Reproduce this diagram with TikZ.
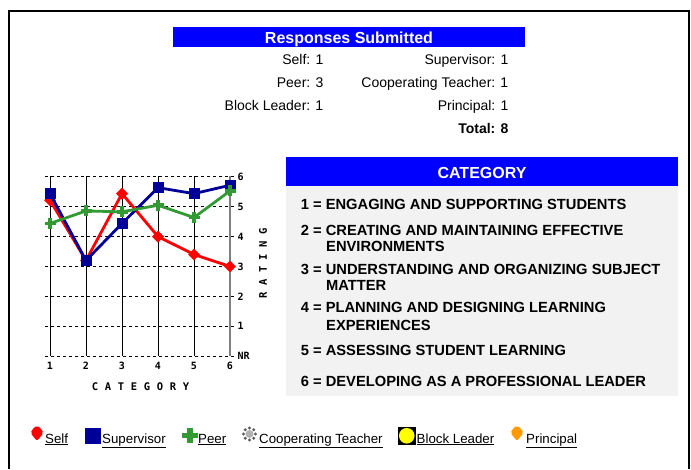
\documentclass[tikz,border=0pt]{standalone}
\usepackage{fontspec}
\setmainfont{Liberation Sans}
\newfontfamily\pixfont{DejaVu Sans Mono}
\usetikzlibrary{shapes.geometric}
\definecolor{hdrblue}{RGB}{0,0,255}
\definecolor{navy}{RGB}{0,0,153}
\definecolor{peergreen}{RGB}{51,153,51}
\definecolor{panelgray}{RGB}{242,242,242}
\definecolor{orng}{RGB}{255,153,0}
\definecolor{yel}{RGB}{255,255,0}
\definecolor{coopgray}{RGB}{90,90,90}
\begin{document}
\begin{tikzpicture}[x=1pt,y=-1pt,
  hdr/.style={font=\fontsize{16}{18}\selectfont\bfseries, text=white, inner sep=0pt},
  cnt/.style={font=\fontsize{14}{16}\selectfont, inner sep=0pt, anchor=base east},
  item/.style={font=\fontsize{14.7}{16.7}\selectfont\bfseries, inner sep=0pt, anchor=base west},
  axlab/.style={font=\pixfont\bfseries\fontsize{10}{11}\selectfont, inner sep=0pt},
  axtitle/.style={font=\pixfont\bfseries\fontsize{10.5}{11}\selectfont, inner sep=0pt},
  vgrid/.style={black, line width=0.9pt},
  hgrid/.style={black, line width=0.9pt, dash pattern=on 3pt off 3pt},
  selfline/.style={red, line width=2.8pt, line join=round},
  supline/.style={navy, line width=2.8pt, line join=round},
  peerline/.style={peergreen, line width=2.8pt, line join=round},
  selfmark/.style={diamond, fill=red, inner sep=0pt, minimum size=12pt},
  supmark/.style={rectangle, fill=navy, inner sep=0pt, minimum size=11pt},
  leg/.style={font=\fontsize{13.3}{15}\selectfont, inner sep=0pt, anchor=base west},
  plusmark/.pic={\draw[peergreen, line width=3.6pt] (-5.5,0)--(5.5,0) (0,-5.5)--(0,5.5);}
]
\useasboundingbox (0,0) rectangle (691,469);
% outer frame
\draw[line width=1.4pt] (9,469) -- (9,11) -- (689,11) -- (689,469);

% ---- Responses submitted
\fill[hdrblue] (173,27) rectangle (525,47);
\node[hdr, anchor=base] (rsub) at (349,43.3) {Responses Submitted};
\node[cnt] (nself) at (323.5,64.3) {Self: 1};
\node[cnt] (nsup) at (508.5,64.3) {Supervisor: 1};
\node[cnt] (npeer) at (323.5,87.7) {Peer: 3};
\node[cnt] (ncoop) at (508.5,87.7) {Cooperating Teacher: 1};
\node[cnt] (nblock) at (323.5,110.7) {Block Leader: 1};
\node[cnt] (nprin) at (508.5,110.7) {Principal: 1};
\node[cnt, font=\fontsize{14}{16}\selectfont\bfseries] (ntot) at (508.5,133.3) {Total: 8};

% ---- Category panel
\fill[hdrblue] (286,157) rectangle (678,186);
\fill[panelgray] (286,186) rectangle (678,396);
\node[hdr, anchor=base] (cathdr) at (482,178.3) {CATEGORY};
\node[item] (c1) at (300.7,209.3) {1 = ENGAGING AND SUPPORTING STUDENTS};
\node[item] (c2a) at (300.7,235) {2 = CREATING AND MAINTAINING EFFECTIVE};
\node[item] (c2b) at (326,251.7) {ENVIRONMENTS};
\node[item] (c3a) at (300.7,274) {3 = UNDERSTANDING AND ORGANIZING SUBJECT};
\node[item] (c3b) at (326,290.7) {MATTER};
\node[item] (c4a) at (300.7,312.7) {4 = PLANNING AND DESIGNING LEARNING};
\node[item] (c4b) at (326,330) {EXPERIENCES};
\node[item] (c5) at (300.7,355.7) {5 = ASSESSING STUDENT LEARNING};
\node[item] (c6) at (300.7,386.7) {6 = DEVELOPING AS A PROFESSIONAL LEADER};

% ---- Chart grid
\foreach \i in {1,...,5}
  \draw[vgrid] ({50+36*(\i-1)},176) -- ({50+36*(\i-1)},356);
\draw[gray, line width=1.6pt] (230,176) -- (230,356);
\foreach \r in {0,...,6}
  \draw[hgrid] (45,{356-29.85*\r}) -- (234,{356-29.85*\r});
\foreach \r in {1,...,6}
  \node[axlab, anchor=west] (rl\r) at (237.5,{356-29.85*\r}) {\r};
\node[axlab, anchor=west] (rl0) at (237.5,356) {NR};
\foreach \i in {1,...,6}
  \node[axlab] (cl\i) at ({50+36*(\i-1)},366) {\i};
\foreach \c [count=\i] in {C,A,T,E,G,O,R,Y}
  \node[axtitle] (ct\i) at ({95+13*(\i-1)},386.7) {\c};
\foreach \c [count=\i] in {R,A,T,I,N,G}
  \node[axtitle, rotate=90] (rt\i) at (263,{295-12.7*(\i-1)}) {\c};

% ---- Data series
\foreach \v [count=\i] in {5.22,3.2,5.44,4.0,3.4,3.0}
  \coordinate (s\i) at ({50+36*(\i-1)},{356-29.85*\v});
\foreach \v [count=\i] in {5.44,3.2,4.44,5.64,5.44,5.72}
  \coordinate (u\i) at ({50+36*(\i-1)},{356-29.85*\v});
\foreach \v [count=\i] in {4.44,4.86,4.83,5.05,4.64,5.53}
  \coordinate (p\i) at ({50+36*(\i-1)},{356-29.85*\v});

\draw[selfline] (s1) -- (s2) -- (s3) -- (s4) -- (s5) -- (s6);
\foreach \i in {1,...,6} \node[selfmark] (sm\i) at (s\i) {};
\draw[supline] (u1) -- (u2) -- (u3) -- (u4) -- (u5) -- (u6);
\foreach \i in {1,...,6} \node[supmark] (um\i) at (u\i) {};
\draw[peerline] (p1) -- (p2) -- (p3) -- (p4) -- (p5) -- (p6);
\foreach \i in {1,...,6} \pic at (p\i) {plusmark};

% ---- Legend
\fill[red, rounded corners=2pt] (37,425.5) -- (41.5,429) -- (43.5,433) -- (37,441) -- (30.5,433) -- (32.5,429) -- cycle;
\node[leg] (lself) at (45,443) {\underline{Self}};
\fill[navy] (85,428) rectangle (101,444);
\node[leg] (lsup) at (102,443) {\underline{Supervisor}};
\fill[peergreen] (187,428) rectangle (192.5,443);
\fill[peergreen] (182,432.8) rectangle (197.5,438.3);
\node[leg] (lpeer) at (198,443) {\underline{Peer}};
\fill[gray!60] (249.5,434) circle (4);
\foreach \a in {0,45,...,315}
  \fill[coopgray] ({249.5+6*cos(\a)},{434+6*sin(\a)}) circle (1.6);
\node[leg] (lcoop) at (259,443) {\underline{Cooperating Teacher}};
\fill[black] (398,427) rectangle (415.5,444.5);
\fill[yel] (406.75,435.75) circle (7.8);
\node[leg] (lblock) at (416.5,443) {\underline{Block Leader}};
\fill[orng, rounded corners=2pt] (517,425.5) -- (521.5,429) -- (523.5,433) -- (517,441) -- (510.5,433) -- (512.5,429) -- cycle;
\node[leg] (lprin) at (526,443) {\underline{Principal}};
\end{tikzpicture}
\end{document}
